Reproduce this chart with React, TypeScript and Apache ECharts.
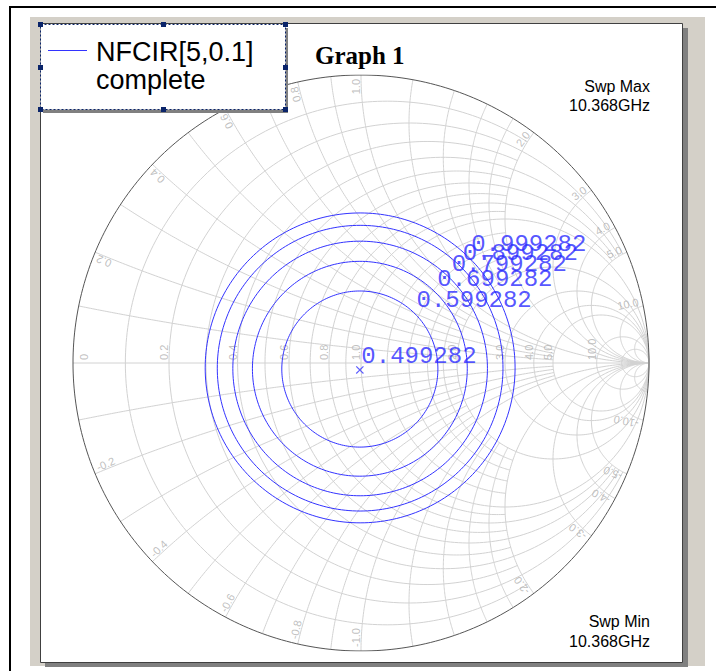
import React, { useEffect, useRef } from "react";
import * as echarts from "echarts";

// Noise-figure circles (dB) on the source reflection-coefficient plane
const NF_LEVELS = [0.599282, 0.699282, 0.799282, 0.899282, 0.999282];
const NF_CENTER_RE = [-0.004, -0.004, -0.003, -0.003, -0.003];
const NF_CENTER_IM = [-0.021, -0.02, -0.019, -0.018, -0.017];
const NF_RADIUS = [0.271, 0.373, 0.442, 0.496, 0.538];
// Minimum noise figure and the optimum source reflection coefficient
const NF_MIN = [0.499282];
const GAMMA_OPT = [-0.004, -0.024];

// Smith chart grid: resistance circles / reactance arcs and where they stop
const RES_FULL = [1, 2, 3, 4, 5, 10, 20];
const RES_CLIP5 = [0.2, 0.4, 0.6, 0.8];
const RES_CLIP2 = [0.1, 0.3, 0.5, 0.7, 0.9, 1.2, 1.4, 1.6, 1.8];
const REA_FULL = [1, 2, 3, 4, 5, 10, 20];
const REA_CLIP5 = [0.2, 0.4, 0.6, 0.8];
const REA_CLIP2 = [0.1, 0.3, 0.5, 0.7, 0.9, 1.2, 1.4, 1.6, 1.8];

// Grid tick labels
const R_TICKS = ["0", "0.2", "0.4", "0.6", "0.8", "1.0", "2.0", "3.0", "4.0", "5.0", "10.0"];
const X_TICKS = ["0.2", "0.4", "0.6", "0.8", "1.0", "2.0", "3.0", "4.0", "5.0", "10.0"];

const LEGEND_LINES = ["NFCIR[5,0.1]", "complete"];
const TITLE = "Graph 1";
const SWEEP_MAX = ["Swp Max", "10.368GHz"];
const SWEEP_MIN = ["Swp Min", "10.368GHz"];

const BLUE = "#3333ff";
const LABEL_BLUE = "#2a2aff";
const GRID_COLOR = "#d2d2d2";
const TICK_COLOR = "#b0b0b0";
const PX = 288; // pixels per unit reflection coefficient
const FS_TICK = 11;

const gamma = (r: number, x: number): [number, number] => {
  const d = (r + 1) * (r + 1) + x * x;
  return [(r * r - 1 + x * x) / d, (2 * x) / d];
};

function resistanceArc(r: number, xlim: number): number[][] {
  const c = r / (1 + r);
  const rho = 1 / (1 + r);
  let t0 = 0;
  if (isFinite(xlim)) {
    const p = gamma(r, xlim);
    t0 = Math.atan2(p[1], p[0] - c);
  }
  const n = 220;
  const pts: number[][] = [];
  for (let i = 0; i <= n; i++) {
    const t = t0 + ((2 * Math.PI - 2 * t0) * i) / n;
    pts.push([c + rho * Math.cos(t), rho * Math.sin(t)]);
  }
  return pts;
}

function reactanceArc(x: number, rlim: number): number[][] {
  const ax = Math.abs(x);
  const s = Math.sign(x);
  const cy = 1 / ax;
  const rho = 1 / ax;
  const norm = (a: number) => (a > -Math.PI / 2 + 1e-9 ? a - 2 * Math.PI : a);
  const pe = gamma(0, ax);
  const aE = norm(Math.atan2(pe[1] - cy, pe[0] - 1));
  let aI = -Math.PI / 2;
  if (isFinite(rlim)) {
    const pi = gamma(rlim, ax);
    aI = norm(Math.atan2(pi[1] - cy, pi[0] - 1));
  }
  const n = 160;
  const pts: number[][] = [];
  for (let i = 0; i <= n; i++) {
    const a = aE + ((aI - aE) * i) / n;
    pts.push([1 + rho * Math.cos(a), s * (cy + rho * Math.sin(a))]);
  }
  return pts;
}

function circle(cx: number, cy: number, r: number, n = 240): number[][] {
  const pts: number[][] = [];
  for (let i = 0; i <= n; i++) {
    const t = (2 * Math.PI * i) / n;
    pts.push([cx + r * Math.cos(t), cy + r * Math.sin(t)]);
  }
  return pts;
}

const CW: Record<string, number> = { ".": 0.278, "-": 0.333 };
const textLen = (s: string, fs: number) =>
  [...s].reduce((a, ch) => a + (CW[ch] ?? 0.556), 0) * fs;

function gridLines() {
  const lines: { coords: number[][] }[] = [];
  const addRes = (vals: number[], lim: number) =>
    vals.forEach((r) => lines.push({ coords: resistanceArc(r, lim) }));
  const addRea = (vals: number[], lim: number) =>
    vals.forEach((x) => {
      lines.push({ coords: reactanceArc(x, lim) });
      lines.push({ coords: reactanceArc(-x, lim) });
    });
  addRes(RES_FULL, Infinity);
  addRes(RES_CLIP5, 5);
  addRes(RES_CLIP2, 2);
  addRea(REA_FULL, Infinity);
  addRea(REA_CLIP5, 5);
  addRea(REA_CLIP2, 2);
  lines.push({ coords: [[-1, 0], [1, 0]] });
  return lines;
}

function tickLabels() {
  const items: any[] = [];
  R_TICKS.forEach((s) => {
    const r = parseFloat(s);
    const g = (r - 1) / (r + 1);
    const len = textLen(s, FS_TICK);
    const gx = r === 0 ? g + 11 / PX : g - 5 / PX;
    const gy = (3 + len / 2) / PX;
    items.push({ value: [gx, gy], label: { formatter: s, rotate: 90 } });
  });
  X_TICKS.forEach((s) => {
    const x = parseFloat(s);
    const th = Math.PI - 2 * Math.atan(x);
    // upper half: text reads outward
    {
      const len = textLen(s, FS_TICK);
      const d = (PX - 4 - len / 2) / PX;
      const ux = Math.cos(th), uy = Math.sin(th);
      const nx = -uy, ny = ux;
      items.push({
        value: [ux * d + (nx * 5) / PX, uy * d + (ny * 5) / PX],
        label: { formatter: s, rotate: (th * 180) / Math.PI },
      });
    }
    // lower half: text reads inward
    {
      const t = "-" + s;
      const len = textLen(t, FS_TICK);
      const d = (PX - 4 - len / 2) / PX;
      const tm = -th;
      const ux = Math.cos(tm), uy = Math.sin(tm);
      const px = Math.sin(tm), py = -Math.cos(tm);
      items.push({
        value: [ux * d + (px * 5) / PX, uy * d + (py * 5) / PX],
        label: { formatter: t, rotate: (tm * 180) / Math.PI + 180 },
      });
    }
  });
  return items;
}

function buildOption(): any {
  const nfSeries = NF_LEVELS.map((nf, i) => ({
    type: "line",
    name: String(nf),
    data: circle(NF_CENTER_RE[i], NF_CENTER_IM[i], NF_RADIUS[i]),
    showSymbol: false,
    symbol: "none",
    clip: false,
    silent: true,
    z: 4,
    lineStyle: { color: BLUE, width: 1 },
  }));

  const c45 = Math.SQRT1_2;
  const nfLabelData = NF_LEVELS.map((nf, i) => [
    NF_CENTER_RE[i] + NF_RADIUS[i] * c45,
    NF_CENTER_IM[i] + NF_RADIUS[i] * c45,
    nf,
  ]);
  nfLabelData.push([GAMMA_OPT[0], GAMMA_OPT[1], NF_MIN[0]]);

  const graphic: any[] = [
    // outer frame
    { type: "rect", z: 0, silent: true, shape: { x: 9, y: 6, width: 707, height: 2 }, style: { fill: "#000" } },
    { type: "rect", z: 0, silent: true, shape: { x: 9, y: 6, width: 2, height: 665 }, style: { fill: "#000" } },
    { type: "rect", z: 0, silent: true, shape: { x: 30, y: 17, width: 675, height: 649 }, style: { fill: "#d4d0c8" } },
    { type: "rect", z: 0, silent: true, shape: { x: 45, y: 28, width: 643, height: 639 }, style: { fill: "#808080" } },
    {
      type: "rect", z: 0, silent: true,
      shape: { x: 40.5, y: 23.5, width: 642, height: 639 },
      style: { fill: "#fff", stroke: "#404040", lineWidth: 1 },
    },
    // title and sweep annotations
    {
      type: "text", z: 100, silent: true, x: 315, y: 55,
      style: { text: TITLE, font: "bold 25px 'Liberation Serif', 'Times New Roman', serif", fill: "#000", verticalAlign: "middle" },
    },
    ...SWEEP_MAX.map((t, i) => ({
      type: "text", z: 100, silent: true, x: 650, y: 86 + i * 19,
      style: { text: t, font: "16px 'Liberation Sans', Arial, sans-serif", fill: "#000", align: "right", verticalAlign: "middle" },
    })),
    ...SWEEP_MIN.map((t, i) => ({
      type: "text", z: 100, silent: true, x: 650, y: 621 + i * 20,
      style: { text: t, font: "16px 'Liberation Sans', Arial, sans-serif", fill: "#000", align: "right", verticalAlign: "middle" },
    })),
    // legend box (selected, with handles)
    { type: "rect", z: 100, silent: true, shape: { x: 43, y: 28, width: 245, height: 85 }, style: { fill: "#808080" } },
    {
      type: "rect", z: 101, silent: true,
      shape: { x: 40.5, y: 24.5, width: 245, height: 85 },
      style: { fill: "#fff", stroke: "#0a246a", lineWidth: 1, lineDash: [2, 2] },
    },
    ...[
      [40, 24], [163, 24], [285, 24], [40, 67], [285, 67], [40, 109], [163, 109], [285, 109],
    ].map(([hx, hy]) => ({
      type: "rect", z: 102, silent: true,
      shape: { x: hx - 2, y: hy - 2, width: 5, height: 5 },
      style: { fill: "#0a246a" },
    })),
    {
      type: "line", z: 102, silent: true,
      shape: { x1: 48, y1: 50.5, x2: 87, y2: 50.5 },
      style: { stroke: BLUE, lineWidth: 1 },
    },
    ...LEGEND_LINES.map((t, i) => ({
      type: "text", z: 102, silent: true, x: 96, y: 52 + i * 28,
      style: { text: t, font: "27px 'Liberation Sans', Arial, sans-serif", fill: "#000", verticalAlign: "middle" },
    })),
  ];

  return {
    animation: false,
    backgroundColor: "#fff",
    grid: { left: 73, top: 75, width: 576, height: 576, show: false },
    xAxis: { type: "value", min: -1, max: 1, show: false },
    yAxis: { type: "value", min: -1, max: 1, show: false },
    graphic,
    series: [
      {
        type: "lines",
        coordinateSystem: "cartesian2d",
        polyline: true,
        silent: true,
        z: 2,
        lineStyle: { color: GRID_COLOR, width: 1, opacity: 1 },
        data: gridLines(),
      },
      {
        type: "lines",
        coordinateSystem: "cartesian2d",
        polyline: true,
        silent: true,
        z: 3,
        lineStyle: { color: "#555555", width: 1, opacity: 1 },
        data: [{ coords: circle(0, 0, 1, 360) }],
      },
      {
        type: "scatter",
        silent: true,
        z: 3,
        symbolSize: 0,
        itemStyle: { color: "rgba(0,0,0,0)" },
        label: {
          show: true,
          position: "inside",
          align: "center",
          verticalAlign: "middle",
          color: TICK_COLOR,
          fontSize: FS_TICK,
          fontFamily: "'Liberation Sans', Arial, sans-serif",
        },
        data: tickLabels(),
      },
      ...nfSeries,
      {
        type: "scatter",
        silent: true,
        z: 5,
        symbolSize: 1,
        itemStyle: { color: "rgba(0,0,0,0)" },
        label: {
          show: true,
          position: [2, -1],
          align: "left",
          verticalAlign: "bottom",
          color: LABEL_BLUE,
          fontSize: 24,
          fontFamily: "'Liberation Mono', 'DejaVu Sans Mono', monospace",
          formatter: (p: any) => Number(p.value[2]).toFixed(6),
        },
        data: nfLabelData,
      },
      {
        type: "scatter",
        silent: true,
        z: 5,
        symbol: "path://M0,1L1,0L5,4L9,0L10,1L6,5L10,9L9,10L5,6L1,10L0,9L4,5Z",
        symbolSize: 8,
        itemStyle: { color: BLUE },
        data: [GAMMA_OPT],
      },
    ],
  };
}

export default function App() {
  const ref = useRef<HTMLDivElement>(null);
  useEffect(() => {
    if (!ref.current) return;
    const chart = echarts.init(ref.current, null, { renderer: "svg" });
    chart.setOption(buildOption());
    return () => chart.dispose();
  }, []);
  return (
    <div
      ref={ref}
      style={{ position: "absolute", left: 0, top: 0, width: 716, height: 671 }}
    />
  );
}
